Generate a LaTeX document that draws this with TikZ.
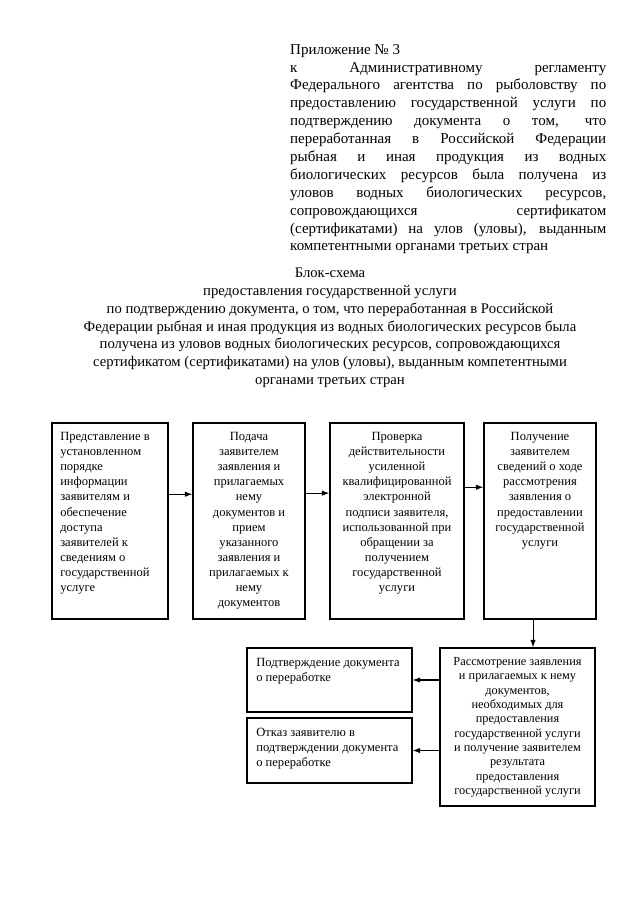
\documentclass[tikz,border=0pt]{standalone}
\usepackage{fontspec}
\setmainfont{Liberation Serif}
\usetikzlibrary{arrows.meta,fit}
\hbadness=10000
\tikzset{
  frame/.style={draw=black, line width=1pt, inner sep=0pt},
  boxtext/.style={font=\fontsize{11.7}{14.1}\selectfont, inner sep=0pt, anchor=north},
  boxleft/.style={boxtext, anchor=north west, align=left},
  boxmid/.style={boxtext, align=center},
  pagetext/.style={font=\fontsize{14}{16.7}\selectfont, inner sep=0pt},
  arrow/.style={line width=1pt, -{Latex[length=7pt,width=5pt]}},
}

\begin{document}
\begin{tikzpicture}[x=0.0328125cm, y=-0.0328125cm]
\useasboundingbox (0,0) rectangle (640,905);
% heading
\node[pagetext, anchor=north west, text width=295pt, align=justify] (annex) at (290,44) {Приложение № 3\\
к Административному регламенту\linebreak
Федерального агентства по рыболовству по\linebreak
предоставлению государственной услуги по\linebreak
подтверждению документа о том, что\linebreak
переработанная в Российской Федерации\linebreak
рыбная и иная продукция из водных\linebreak
биологических ресурсов была получена из\linebreak
уловов водных биологических ресурсов,\linebreak
сопровождающихся сертификатом\linebreak
(сертификатами) на улов (уловы), выданным\linebreak
компетентными органами третьих стран};
\node[pagetext, font=\fontsize{13.7}{16.6}\selectfont, anchor=north, align=center] (title) at (330,268) {Блок-схема\\
предоставления государственной услуги\\
по подтверждению документа, о том, что переработанная в Российской\\
Федерации рыбная и иная продукция из водных биологических ресурсов была\\
получена из уловов водных биологических ресурсов, сопровождающихся\\
сертификатом (сертификатами) на улов (уловы), выданным компетентными\\
органами третьих стран};
% upper row
\node[frame, fit={(52,423) (168,619)}] (present) {};
\node[frame, fit={(193,423) (305,619)}] (submit) {};
\node[frame, fit={(330,423) (464,619)}] (verify) {};
\node[frame, fit={(484,423) (596,619)}] (status) {};
\node[boxleft] (presentText) at ([xshift=8pt,yshift=-9pt]present.north west) {Представление в\\ установленном\\ порядке\\ информации\\ заявителям и\\ обеспечение\\ доступа\\ заявителей к\\ сведениям о\\ государственной\\ услуге};
\node[boxmid] (submitText) at ([yshift=-9pt]submit.north) {Подача\\ заявителем\\ заявления и\\ прилагаемых\\ нему\\ документов и\\ прием\\ указанного\\ заявления и\\ прилагаемых к\\ нему\\ документов};
\node[boxmid] (verifyText) at ([yshift=-9pt]verify.north) {Проверка\\ действительности\\ усиленной\\ квалифицированной\\ электронной\\ подписи заявителя,\\ использованной при\\ обращении за\\ получением\\ государственной\\ услуги};
\node[boxmid] (statusText) at ([yshift=-9pt]status.north) {Получение\\ заявителем\\ сведений о ходе\\ рассмотрения\\ заявления о\\ предоставлении\\ государственной\\ услуги};
% lower part
\node[frame, fit={(440,648) (595,806)}] (review) {};
\node[frame, fit={(247,648) (412,712)}] (confirm) {};
\node[frame, fit={(247,718) (412,783)}] (refuse) {};
\node[boxmid, font=\fontsize{11.5}{13.4}\selectfont] (reviewText) at ([yshift=-9pt]review.north) {Рассмотрение заявления\\ и прилагаемых к нему\\ документов,\\ необходимых для\\ предоставления\\ государственной услуги\\ и получение заявителем\\ результата\\ предоставления\\ государственной услуги};
\node[boxleft] (confirmText) at ([xshift=9pt,yshift=-10pt]confirm.north west) {Подтверждение документа\\ о переработке};
\node[boxleft] (refuseText) at ([xshift=9pt,yshift=-10pt]refuse.north west) {Отказ заявителю в\\ подтверждении документа\\ о переработке};
% arrows
\draw[arrow] ([yshift=25pt]present.east) -- ([yshift=25pt]present.east -| submit.west);
\draw[arrow] ([yshift=26pt]submit.east) -- ([yshift=26pt]submit.east -| verify.west);
\draw[arrow] ([yshift=31.5pt]verify.east) -- ([yshift=31.5pt]verify.east -| status.west);
\draw[arrow] ([xshift=-6.5pt]status.south) -- ([xshift=-6.5pt]status.south |- review.north);
\draw[arrow] (review.west |- confirm.east) -- (confirm.east);
\draw[arrow] (review.west |- refuse.east) -- (refuse.east);
\end{tikzpicture}
\end{document}
